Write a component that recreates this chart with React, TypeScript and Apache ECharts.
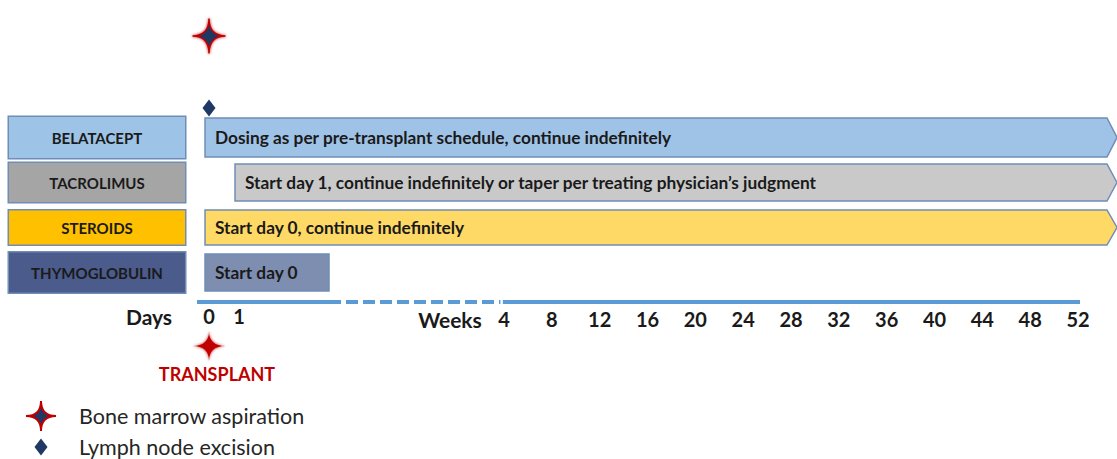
import React, { useEffect, useRef } from "react";
import * as echarts from "echarts";

// ---------- data ----------
const DRUGS = ["BELATACEPT", "TACROLIMUS", "STEROIDS", "THYMOGLOBULIN"];
const START_DAY = [0, 1, 0, 0];
const END_DAY: (number | null)[] = [null, null, null, 4]; // null = continue indefinitely
const REGIMEN_TEXT = [
  "Dosing as per pre-transplant schedule, continue indefinitely",
  "Start day 1, continue indefinitely or taper per treating physician\u2019s judgment",
  "Start day 0, continue indefinitely",
  "Start day 0",
];
const DAY_TICKS = [0, 1];
const WEEK_TICKS = [4, 8, 12, 16, 20, 24, 28, 32, 36, 40, 44, 48, 52];
const BONE_MARROW_DAYS = [0];
const LYMPH_NODE_DAYS = [0];
const TRANSPLANT_DAY = 0;
const EVENT_NAMES = ["Bone marrow aspiration", "Lymph node excision"];
// timeline: solid days segment, dashed gap, solid weeks segment
const TIMELINE_DAYS = [-0.4, 4];
const TIMELINE_GAP_END_WEEK = 3.7;
const TIMELINE_WEEKS = [3.9, 53];

// ---------- broken time scale (days, then weeks) ----------
const WEEK_OFFSET = 8.239; // axis units of week 0
const WEEK_SCALE = 0.3986; // axis units per week
const dayPos = (d: number) => d;
const weekPos = (w: number) => WEEK_OFFSET + w * WEEK_SCALE;
const X_MIN = -6.667;
const X_MAX = weekPos(52);

// ---------- styles ----------
const FONT = "Lato";
const LABEL_FILL = ["#9dc3e6", "#a5a5a5", "#ffc000", "#4a5b8c"];
const BAR_FILL = ["#9fc3e7", "#c9c9c9", "#ffd966", "#7e8eb1"];
const BOX_H = [43, 41, 36, 42];
const BAR_H = [39, 37, 35, 37];
const BORDER = "#6f8db6";
const NAVY = "#1f3864";
const RED = "#c00000";
const STAR = "path://M0,-10 Q0,0 10,0 Q0,0 0,10 Q0,0 -10,0 Q0,0 0,-10 Z";
const DIAMOND_LEGEND = "path://M0,0 M30,30 M15,6.5 L21.5,15 L15,23.5 L8.5,15 Z";

export default function App() {
  const ref = useRef<HTMLDivElement>(null);
  useEffect(() => {
    document.body.style.margin = "0";
    const chart = echarts.init(ref.current!, undefined, { renderer: "svg" });

    const ticks: { pos: number; text: string; style: string }[] = [
      { pos: dayPos(-2), text: "Days", style: "dh" },
      ...DAY_TICKS.map((d) => ({ pos: dayPos(d), text: String(d), style: "d" })),
      { pos: weekPos(-0.52), text: "Weeks", style: "wh" },
      ...WEEK_TICKS.map((w) => ({ pos: weekPos(w), text: String(w), style: "w" })),
    ];
    const tickMap = new Map<string, { text: string; style: string }>();
    ticks.forEach((t) => tickMap.set(t.pos.toFixed(4), t));

    const rich: any = {};
    DRUGS.forEach((_, i) => {
      rich["r" + i] = {
        width: 176,
        height: BOX_H[i] - 2,
        lineHeight: BOX_H[i] - 2,
        align: "center",
        backgroundColor: LABEL_FILL[i],
        borderColor: BORDER,
        borderWidth: 1.5,
        fontWeight: "bold",
        fontSize: 15,
        fontFamily: FONT,
        color: "#1a1a1a",
      };
    });

    const barData = DRUGS.map((name, i) => [
      i,
      dayPos(START_DAY[i]),
      END_DAY[i] === null ? X_MAX : dayPos(END_DAY[i] as number),
    ]);

    const xCommon = { type: "value", min: X_MIN, max: X_MAX, show: false };
    const tickFont = { fontWeight: "bold", fontFamily: FONT, color: "#1a1a1a" };

    chart.setOption({
      animation: false,
      grid: [
        { left: 9, right: 39, top: 115, height: 180 },
        { left: 9, right: 39, top: 302, height: 100 },
        { left: 9, right: 39, top: -4, height: 148 },
      ],
      xAxis: [
        { ...xCommon, gridIndex: 0 },
        {
          type: "value",
          gridIndex: 1,
          min: X_MIN,
          max: X_MAX,
          position: "top",
          axisLine: { show: false },
          axisTick: { show: false },
          splitLine: { show: false },
          axisLabel: {
            inside: true,
            margin: 4,
            customValues: ticks.map((t) => t.pos),
            formatter: (v: number) => {
              const t = tickMap.get(v.toFixed(4));
              return t ? `{${t.style}|${t.text}}` : "";
            },
            rich: {
              d: { ...tickFont, fontSize: 20 },
              dh: { ...tickFont, fontSize: 21 },
              w: { ...tickFont, fontSize: 20, padding: [3, 0, 0, 0] },
              wh: { ...tickFont, fontSize: 21, padding: [3, 0, 0, 0] },
            },
          },
        },
        { ...xCommon, gridIndex: 2 },
      ],
      yAxis: [
        {
          type: "category",
          gridIndex: 0,
          data: DRUGS,
          inverse: true,
          axisLine: { show: false },
          axisTick: { show: false },
          splitLine: { show: false },
          axisLabel: {
            inside: true,
            margin: 0,
            formatter: (v: string) => `{r${DRUGS.indexOf(v)}|${v}}`,
            rich,
          },
        },
        { type: "value", gridIndex: 1, min: 0, max: 1, inverse: true, show: false },
        { type: "category", gridIndex: 2, data: EVENT_NAMES, inverse: true, show: false },
      ],
      legend: {
        orient: "vertical",
        left: 25,
        top: 400,
        height: 70,
        padding: 0,
        itemWidth: 32,
        itemHeight: 30,
        itemGap: 0,
        selectedMode: false,
        data: [
          { name: EVENT_NAMES[0], icon: STAR },
          { name: EVENT_NAMES[1], icon: DIAMOND_LEGEND },
        ],
        textStyle: { fontSize: 21.5, color: "#262626", fontFamily: FONT, padding: [0, 0, 0, 17] },
      },
      series: [
        {
          type: "custom",
          xAxisIndex: 0,
          yAxisIndex: 0,
          clip: false,
          encode: { x: [1, 2], y: 0 },
          data: barData,
          renderItem: (params: any, api: any) => {
            const i = params.dataIndex;
            const row = api.value(0);
            const s = api.coord([api.value(1), row]);
            const e = api.coord([api.value(2), row]);
            const h = BAR_H[i];
            const x0 = s[0] - 4;
            const yT = s[1] - h / 2;
            const yB = s[1] + h / 2;
            let points: number[][];
            if (END_DAY[i] === null) {
              const tip = api.getWidth();
              const body = tip - 10;
              points = [[x0, yT], [body, yT], [tip, s[1]], [body, yB], [x0, yB]];
            } else {
              points = [[x0, yT], [e[0], yT], [e[0], yB], [x0, yB]];
            }
            return {
              type: "group",
              children: [
                {
                  type: "polygon",
                  shape: { points },
                  style: { fill: BAR_FILL[i], stroke: BORDER, lineWidth: 1.5 },
                },
                {
                  type: "text",
                  style: {
                    text: REGIMEN_TEXT[i],
                    x: x0 + 10,
                    y: s[1],
                    verticalAlign: "middle",
                    align: "left",
                    fill: "#1a1a1a",
                    font: `bold 17.3px ${FONT}`,
                  },
                },
              ],
            };
          },
        },
        {
          type: "line",
          xAxisIndex: 1,
          yAxisIndex: 1,
          data: TIMELINE_DAYS.map((d) => [dayPos(d), 0]),
          symbol: "none",
          lineStyle: { color: "#5b9bd5", width: 4 },
        },
        {
          type: "line",
          xAxisIndex: 1,
          yAxisIndex: 1,
          data: [
            [dayPos(TIMELINE_DAYS[1]), 0],
            [weekPos(TIMELINE_GAP_END_WEEK), 0],
          ],
          symbol: "none",
          lineStyle: { color: "#5b9bd5", width: 4, type: [12, 5] },
        },
        {
          type: "line",
          xAxisIndex: 1,
          yAxisIndex: 1,
          data: TIMELINE_WEEKS.map((w) => [weekPos(w), 0]),
          symbol: "none",
          lineStyle: { color: "#5b9bd5", width: 4 },
        },
        {
          name: "TRANSPLANT",
          type: "scatter",
          xAxisIndex: 1,
          yAxisIndex: 1,
          data: [[dayPos(TRANSPLANT_DAY), 0.44]],
          symbol: STAR,
          symbolSize: [33, 30],
          itemStyle: { color: RED, opacity: 1, shadowBlur: 3, shadowColor: RED },
          label: {
            show: true,
            position: "bottom",
            distance: 4,
            offset: [8, 0],
            formatter: "TRANSPLANT",
            color: RED,
            fontWeight: "bold",
            fontSize: 18,
            fontFamily: FONT,
          },
        },
        {
          name: EVENT_NAMES[0],
          type: "scatter",
          xAxisIndex: 2,
          yAxisIndex: 2,
          data: BONE_MARROW_DAYS.map((d) => [dayPos(d), EVENT_NAMES[0]]),
          symbol: STAR,
          symbolSize: [33, 35],
          itemStyle: { color: NAVY, opacity: 1, borderColor: RED, borderWidth: 1.5, shadowBlur: 3, shadowColor: RED },
        },
        {
          name: EVENT_NAMES[1],
          type: "scatter",
          xAxisIndex: 2,
          yAxisIndex: 2,
          data: LYMPH_NODE_DAYS.map((d) => [dayPos(d), EVENT_NAMES[1]]),
          symbol: "diamond",
          symbolSize: [13, 17],
          itemStyle: { color: NAVY, opacity: 1 },
        },
      ],
    });
    return () => chart.dispose();
  }, []);
  return <div ref={ref} style={{ width: 1117, height: 459 }} />;
}
